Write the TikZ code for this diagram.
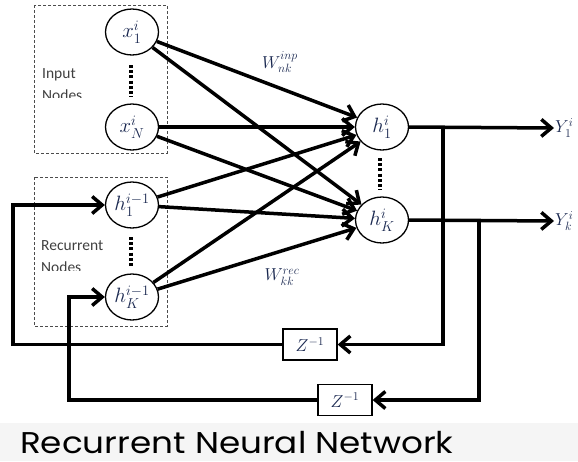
\documentclass[tikz,border=0pt]{standalone}
\usepackage{fontspec}
\newfontfamily\labelfont{Carlito}
\newfontfamily\titlefont{Poppins}
\usetikzlibrary{shapes.geometric,arrows.meta,calc}
\definecolor{ink}{HTML}{1A2850}
\definecolor{grouptext}{HTML}{404040}

\begin{document}
\begin{tikzpicture}[x=1pt,y=-1pt,
  neuron/.style={ellipse,draw,line width=1.3pt,minimum width=53pt,minimum height=46pt,
    inner sep=0pt,fill=white,text=ink,font=\fontsize{20}{20}\selectfont},
  delay/.style={rectangle,draw,line width=1.3pt,minimum width=54pt,minimum height=31pt,
    inner sep=0pt,fill=white,text=ink,font=\fontsize{18}{18}\selectfont},
  groupbox/.style={draw=black!70,line width=0.8pt,dash pattern=on 3pt off 2pt},
  grouplabel/.style={anchor=base west,inner sep=0pt,text=grouptext,font=\labelfont\fontsize{15.5}{16}\selectfont},
  link/.style={line width=3.5pt,-{Straight Barb[length=10pt,width=17pt]}},
  ellipsis/.style={line width=3.5pt,dash pattern=on 3pt off 2.2pt},
  weight/.style={text=ink,font=\fontsize{18}{18}\selectfont},
  outlabel/.style={anchor=west,inner sep=1pt,text=ink,font=\fontsize{18}{18}\selectfont}]

\useasboundingbox (0,0) rectangle (578,461);
\fill[black!4] (0,423) rectangle (578,461);

% dashed groups on the input side
\draw[groupbox] (34,5) rectangle (167,153);
\draw[groupbox] (34,177) rectangle (167,326);
\node[grouplabel] at (42,78) {Input};
\begin{scope}
  \clip (34,80) rectangle (167,97);
  \node[grouplabel] at (42,100) {Nodes};
\end{scope}
\node[grouplabel] at (41,250) {Recurrent};
\begin{scope}
  \clip (34,255) rectangle (167,270);
  \node[grouplabel] at (41,272) {Nodes};
\end{scope}

% neurons
\node[neuron] (x1)  at (132,32)  {$x_1^i$};
\node[neuron] (xN)  at (132,127) {$x_N^i$};
\node[neuron] (hp1) at (132,205) {$h_1^{i-1}$};
\node[neuron] (hpK) at (132,297) {$h_K^{i-1}$};
\node[neuron] (h1)  at (382,127) {$h_1^i$};
\node[neuron] (hK)  at (382,220) {$h_K^i$};

% vertical ellipses between neurons
\draw[ellipsis] (131,65) -- (131,97);
\draw[ellipsis] (131,237) -- (131,268);
\draw[ellipsis] (380,158) -- (380,190);

% fully connected weights
\foreach \s in {x1,xN,hp1,hpK}{
  \draw[link] (\s) -- (h1);
  \draw[link] (\s) -- (hK);
}
\node[weight] (winp) at (280,62)  {$W_{nk}^{inp}$};
\node[weight] (wrec) at (282,277) {$W_{kk}^{rec}$};

% outputs
\node[outlabel] (Y1) at (554,128) {$Y_1^i$};
\node[outlabel] (YK) at (554,221) {$Y_k^i$};
\draw[link] (h1.east) -- (Y1.west);
\draw[link] (hK.east) -- (YK.west);

% unit delays and feedback
\node[delay] (z1) at (310,344.5) {$Z^{-1}$};
\node[delay] (z2) at (345,400)   {$Z^{-1}$};
\coordinate (tap1) at (443,128);
\coordinate (tap2) at (479,221);
\coordinate (fb1) at (13,344.5);
\coordinate (fb2) at (69,400);
\draw[link] (tap1) |- (z1.east);
\draw[link] (tap2) |- (z2.east);
\draw[link] (z1.west) -- (fb1) |- (hp1.west);
\draw[link] (z2.west) -- (fb2) |- (hpK.west);

\node[anchor=base west,inner sep=0pt,font=\titlefont\fontsize{30}{30}\selectfont] (title) at (20,453)
  {\scalebox{1.14}[1]{Recurrent Neural Network}};
\end{tikzpicture}
\end{document}
